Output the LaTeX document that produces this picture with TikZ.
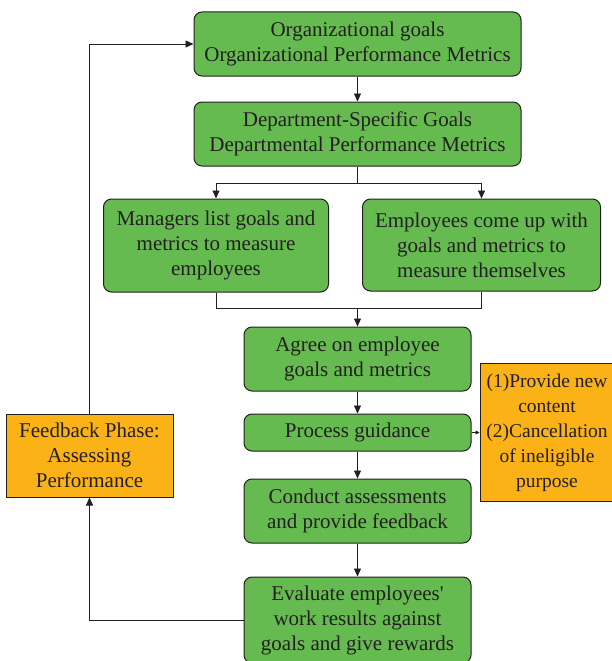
\documentclass[tikz,border=0pt]{standalone}
\usepackage{fontspec}
\setmainfont{Liberation Serif}
\usetikzlibrary{positioning, arrows.meta, calc}
\tikzset{>={Triangle[length=8pt, width=7pt]}}
\definecolor{stepgreen}{RGB}{102,187,80}
\definecolor{noteorange}{RGB}{251,178,23}
\definecolor{inkgray}{RGB}{35,31,32}

\begin{document}
\begin{tikzpicture}[
    x=1pt, y=1pt,
    font=\fontsize{21}{25}\selectfont,
    text=inkgray,
    box/.style={draw=inkgray, line width=1pt, rounded corners=8pt,
                fill=stepgreen, align=center, inner sep=0pt},
    wide/.style={box, minimum width=327pt, minimum height=64pt},
    mid/.style={box, minimum width=227pt, minimum height=64pt},
    note/.style={draw=inkgray, line width=1pt, fill=noteorange,
                 align=center, inner sep=0pt},
    link/.style={->, draw=inkgray, line width=0.8pt},
  ]
  \useasboundingbox (0,0) rectangle (612,-661);
  \node[wide] (org) at (357.5,-44) {Organizational goals\\Organizational Performance Metrics};
  \node[wide, below=25pt of org] (dept) {Department-Specific Goals\\Departmental Performance Metrics};
  \node[box, minimum width=225pt, minimum height=93pt,
        below=32pt of dept, xshift=-141.5pt] (mgr)
    {Managers list goals and\\metrics to measure\\employees};
  \node[box, minimum width=238pt, minimum height=92pt,
        right=33pt of mgr.north east, anchor=north west] (emp)
    {Employees come up with\\goals and metrics to\\measure themselves};
  \node[mid, below=160pt of dept] (agree) {Agree on employee\\goals and metrics};
  \node[mid, minimum height=37pt, below=22pt of agree] (guide) {Process guidance};
  \node[mid, below=27pt of guide] (assess) {Conduct assessments\\and provide feedback};
  \node[mid, minimum height=86pt, below=33pt of assess] (eval)
    {Evaluate employees\textquotesingle\\work results against\\goals and give rewards};
  \node[note, minimum width=134pt, minimum height=138pt,
        font=\fontsize{19.5}{25}\selectfont, right=8pt of guide] (opts)
    {(1)Provide new\\content\\(2)Cancellation\\of ineligible\\purpose};
  \node[note, minimum width=167pt, minimum height=83pt,
        left=70pt of guide, yshift=-23pt] (fb)
    {Feedback Phase:\\Assessing\\Performance};
  % split and merge
  \draw[line width=0.8pt, draw=inkgray] (dept.south) -- ++(0,-17) coordinate (split);
  \draw[link] (split) -| (mgr.north);
  \draw[link] (split) -| (emp.north);
  \draw[line width=0.8pt, draw=inkgray] (mgr.south) -- ++(0,-16) coordinate (merge) -| (emp.south);
  \draw[link] (merge -| agree.north) -- (agree.north);
  % main column
  \draw[link] (org) -- (dept);
  \draw[link] (agree) -- (guide);
  \draw[link] (guide) -- (assess);
  \draw[link] (assess) -- (eval);
  \draw[->, draw=inkgray, line width=0.8pt, >={Triangle[length=4pt, width=4pt]}] (guide) -- (opts);
  % feedback loop
  \draw[link] (eval.west) -| (fb.south);
  \draw[link] (fb.north) |- (org.west);
\end{tikzpicture}
\end{document}
